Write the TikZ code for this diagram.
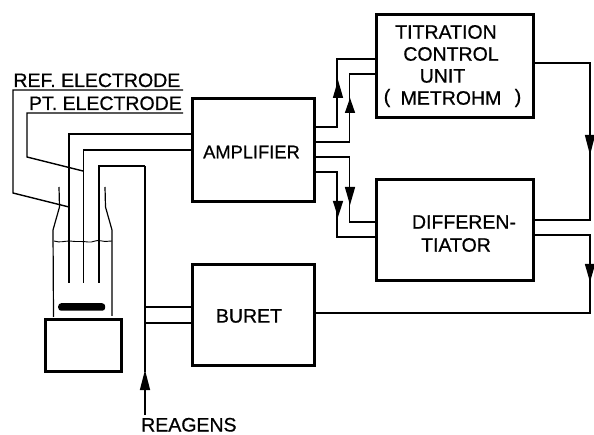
\documentclass[tikz,border=0pt]{standalone}
\usepackage{fontspec}
\setmainfont[FakeBold=0.7]{Liberation Sans}
\tikzset{
 x=1pt,y=-1pt,
 blockbox/.style={draw,line width=2.7pt,inner sep=0pt,anchor=north west},
 wire/.style={line width=1.4pt},
 thinwire/.style={line width=1.2pt},
 lbl/.style={inner sep=0pt,font=\fontsize{19.5}{22}\selectfont},
}
\newcommand{\uptip}[3]{\fill (#1,#2) -- ++(-5.2,#3) -- ++(10.4,0) -- cycle;}
\newcommand{\downtip}[3]{\fill (#1,#2) -- ++(-5.2,-#3) -- ++(10.4,0) -- cycle;}
\begin{document}
\begin{tikzpicture}
\useasboundingbox (0,0) rectangle (594,435);
% blocks
\node[blockbox,minimum width=157pt,minimum height=103pt] (tcu) at (375,13) {};
\node[lbl] (t1) at (446,32) {TITRATION};
\node[lbl] (t2) at (451,54) {CONTROL};
\node[lbl] (t3) at (442.5,76) {UNIT};
\node[lbl] (t4) at (451,98) {METROHM};
\node[lbl] (t5) at (387,98) {(};
\node[lbl] (t6) at (518,98) {)};
\node[blockbox,minimum width=122pt,minimum height=103pt] (amp) at (191,97) {};
\node[lbl,font=\fontsize{18.3}{22}\selectfont] (amptext) at (251.5,152) {AMPLIFIER};
\node[blockbox,minimum width=157pt,minimum height=101pt] (dif) at (375,178) {};
\node[lbl] (d1) at (464,222) {DIFFEREN-};
\node[lbl] (d2) at (456,245) {TIATOR};
\node[blockbox,minimum width=122pt,minimum height=101pt] (bur) at (191,263) {};
\node[lbl] (burtext) at (249,316) {BURET};
% stirrer
\node[blockbox,minimum width=76pt,minimum height=52pt] (stir) at (44,318) {};
\node[fill=black,rounded corners=3pt,minimum width=47pt,minimum height=7.5pt,inner sep=0pt] (bar) at (81.7,307) {};
% beaker
\draw[thinwire] (59,187) -- (59.5,207) -- (53,230) -- (53.5,317);
\draw[thinwire] (105,187) -- (105.5,207) -- (112,230) -- (112,316);
\draw[line width=0.9pt] (54,241) .. controls (60,243) and (64,241) .. (70,241) .. controls (76,242) and (80,241) .. (88,242) .. controls (93,243) and (96,239) .. (102,241) .. controls (106,242) and (108,241) .. (112,241);
% electrode labels
\node[lbl,anchor=base east] (ref) at (180.5,87) {REF. ELECTRODE};
\node[lbl,anchor=base east] (pt) at (182,110) {PT. ELECTRODE};
\coordinate (r1) at (183,90);
\coordinate (r2) at (13,90);
\coordinate (r3) at (13,193);
\coordinate (r4) at (69,207);
\coordinate (p1) at (183,113);
\coordinate (p2) at (27,113);
\coordinate (p3) at (27,157);
\coordinate (p4) at (83,171);
\draw[wire] (r1) -- (r2) -- (r3) -- (r4);
\draw[wire] (p1) -- (p2) -- (p3) -- (p4);
% electrode leads
\draw[wire] (amp.west |- 0,134) -- (69,134) -- (69,283);
\draw[wire] (amp.west |- 0,150) -- (83.5,150) -- (83.5,283);
\draw[wire] (145,166) -- (99,166) -- (99,283);
% reagent line
\coordinate (rtop) at (145,166);
\coordinate (rbot) at (145,372);
\coordinate (rin) at (145,415);
\draw[wire] (rtop) -- (rbot);
\draw[wire] (rin) -- (145,388);
\uptip{145}{370}{20}
\node[lbl,anchor=base west] (reag) at (141,431.5) {REAGENS};
\draw[wire] (145,307) -- (bur.west |- 0,307);
\draw[wire] (145,323) -- (bur.west |- 0,323);
% amp to tcu
\draw[wire] (amp.east |- 0,127) -- (337,127) -- (337,59) -- (tcu.west |- 0,59);
\uptip{338}{80}{18}
\draw[wire] (amp.east |- 0,142) -- (349.5,142) -- (349.5,74) -- (tcu.west |- 0,74);
\uptip{350}{98}{15}
% amp to dif
\draw[wire] (amp.east |- 0,157) -- (349.5,157) -- (349.5,222) -- (dif.west |- 0,222);
\downtip{350}{205}{18}
\draw[wire] (amp.east |- 0,172) -- (337,172) -- (337,237) -- (dif.west |- 0,237);
\downtip{338}{217}{16}
% feedback
\draw[wire] (tcu.east |- 0,63) -- (590,63) -- (590,220) -- (dif.east |- 0,220);
\downtip{590}{155}{20}
\draw[wire] (dif.east |- 0,235) -- (590,235) -- (590,313) -- (bur.east |- 0,313);
\downtip{590}{282}{18}
\end{tikzpicture}
\end{document}
